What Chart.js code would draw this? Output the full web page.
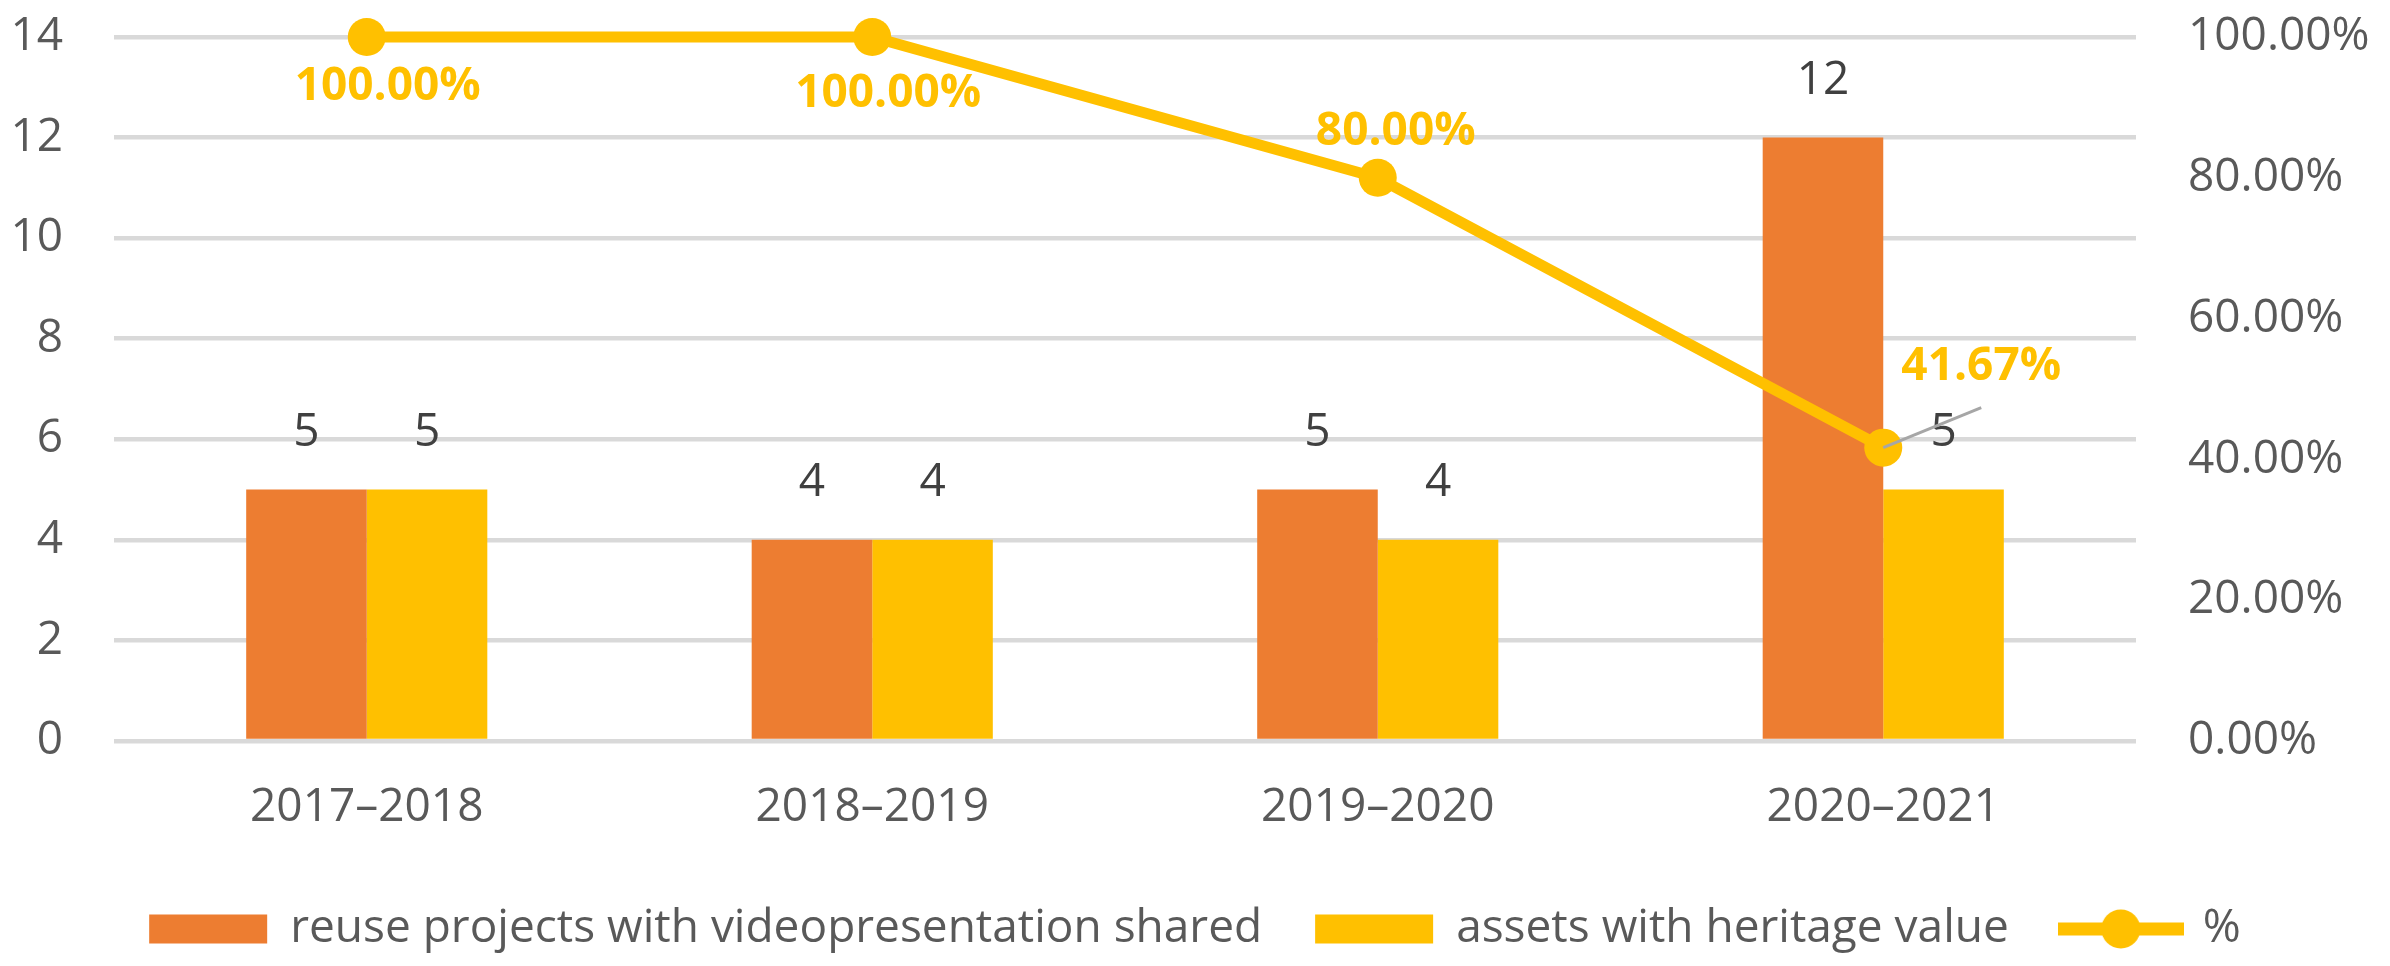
<!DOCTYPE html>
<html>
<head>
<meta charset="utf-8">
<script src="https://cdn.jsdelivr.net/npm/chart.js@4.4.1/dist/chart.umd.min.js"></script>
<style>
  html, body { margin: 0; padding: 0; background: #ffffff; }
  #wrap { width: 2390px; height: 966px; }
</style>
</head>
<body>
<div id="wrap"><canvas id="chart"></canvas></div>
<script>
const CATEGORIES = ['2017–2018', '2018–2019', '2019–2020', '2020–2021'];
const REUSE_PROJECTS = [5, 4, 5, 12];
const HERITAGE_ASSETS = [5, 4, 4, 5];
const HERITAGE_SHARE = [100, 100, 80, 41.67];
const COUNT_TICKS = [0, 2, 4, 6, 8, 10, 12, 14];
const PERCENT_TICKS = [0, 20, 40, 60, 80, 100];

const FONT = '"Open Sans", sans-serif';
const ORANGE = '#ED7D31';
const GOLD = '#FFC000';
const AXIS_TEXT = '#595959';

// where Excel put the % labels, relative to their point (px)
const SHARE_LABEL_SHIFT = [[21, 50], [16, 57], [18, -46], [98, -81]];
const LEADER_END = [null, null, null, [98, -40]];

function lineLegendKey() {
  const key = document.createElement('canvas');
  key.width = 126;
  key.height = 40;
  const c = key.getContext('2d');
  c.strokeStyle = GOLD;
  c.lineWidth = 13;
  c.beginPath();
  c.moveTo(0, 20);
  c.lineTo(126, 20);
  c.stroke();
  c.fillStyle = GOLD;
  c.beginPath();
  c.arc(63, 20, 19.5, 0, Math.PI * 2);
  c.fill();
  return key;
}

const valueLabels = {
  id: 'valueLabels',
  afterDatasetsDraw(chart) {
    const { ctx } = chart;
    ctx.save();
    ctx.textAlign = 'center';
    ctx.textBaseline = 'middle';

    chart.data.datasets.forEach((dataset, i) => {
      if (dataset.type === 'line') return;
      ctx.font = `46px ${FONT}`;
      ctx.fillStyle = '#404040';
      chart.getDatasetMeta(i).data.forEach((bar, j) => {
        ctx.fillText(String(dataset.data[j]), bar.x, bar.y - 57);
      });
    });

    chart.data.datasets.forEach((dataset, i) => {
      if (dataset.type !== 'line') return;
      chart.getDatasetMeta(i).data.forEach((point, j) => {
        const leader = LEADER_END[j];
        if (leader) {
          ctx.strokeStyle = '#A6A6A6';
          ctx.lineWidth = 3;
          ctx.beginPath();
          ctx.moveTo(point.x, point.y);
          ctx.lineTo(point.x + leader[0], point.y + leader[1]);
          ctx.stroke();
        }
        const [dx, dy] = SHARE_LABEL_SHIFT[j];
        ctx.font = `bold 46px ${FONT}`;
        ctx.fillStyle = GOLD;
        ctx.fillText(dataset.data[j].toFixed(2) + '%', point.x + dx, point.y + dy);
      });
    });

    ctx.restore();
  },
};

function renderChart() {
  const legendKey = lineLegendKey();

  new Chart(document.getElementById('chart'), {
    type: 'bar',
    data: {
      labels: CATEGORIES,
      datasets: [
        {
          label: 'reuse projects with videopresentation shared',
          data: REUSE_PROJECTS,
          backgroundColor: ORANGE,
          yAxisID: 'y',
          order: 1,
        },
        {
          label: 'assets with heritage value',
          data: HERITAGE_ASSETS,
          backgroundColor: GOLD,
          yAxisID: 'y',
          order: 1,
        },
        {
          type: 'line',
          label: '%',
          data: HERITAGE_SHARE,
          yAxisID: 'y1',
          borderColor: GOLD,
          backgroundColor: GOLD,
          borderWidth: 11,
          pointRadius: 19,
          pointHoverRadius: 19,
          pointBackgroundColor: GOLD,
          pointBorderWidth: 0,
          tension: 0,
          clip: false,
          order: 0,
        },
      ],
    },
    options: {
      animation: false,
      responsive: true,
      maintainAspectRatio: false,
      devicePixelRatio: 1,
      categoryPercentage: 0.477,
      barPercentage: 1,
      layout: {
        padding: { top: 37, left: 0, right: 0, bottom: 4 },
      },
      plugins: {
        tooltip: { enabled: false },
        legend: {
          position: 'bottom',
          labels: {
            usePointStyle: true,
            pointStyleWidth: 118,
            boxHeight: 29,
            padding: 53,
            color: AXIS_TEXT,
            font: { family: FONT, size: 46 },
            generateLabels: (chart) => chart.data.datasets.map((dataset, i) => ({
              text: dataset.label,
              fillStyle: dataset.backgroundColor,
              strokeStyle: dataset.backgroundColor,
              lineWidth: 0,
              pointStyle: dataset.type === 'line' ? legendKey : 'rect',
              fontColor: AXIS_TEXT,
              hidden: false,
              datasetIndex: i,
            })),
          },
        },
      },
      scales: {
        x: {
          grid: { display: false, drawTicks: false },
          border: { display: false },
          ticks: {
            color: AXIS_TEXT,
            font: { family: FONT, size: 46 },
            padding: 39,
            maxRotation: 0,
          },
          afterFit: (axis) => { axis.height = 112; },
        },
        y: {
          position: 'left',
          min: 0,
          max: 14,
          // tick marks are invisible; their length keeps the labels off the plot
          grid: { color: '#D9D9D9', lineWidth: 4.5, drawTicks: true, tickLength: 51, tickColor: 'rgba(0,0,0,0)' },
          border: { display: false },
          ticks: {
            color: AXIS_TEXT,
            font: { family: FONT, size: 46 },
            padding: 0,
          },
          afterBuildTicks: (axis) => { axis.ticks = COUNT_TICKS.map((value) => ({ value })); },
          afterFit: (axis) => { axis.width = 114; },
        },
        y1: {
          position: 'right',
          min: 0,
          max: 100,
          grid: { drawOnChartArea: false, drawTicks: true, tickLength: 52, tickColor: 'rgba(0,0,0,0)' },
          border: { display: false },
          ticks: {
            color: AXIS_TEXT,
            font: { family: FONT, size: 46 },
            padding: 0,
            callback: (value) => value.toFixed(2) + '%',
          },
          afterBuildTicks: (axis) => { axis.ticks = PERCENT_TICKS.map((value) => ({ value })); },
          afterFit: (axis) => { axis.width = 254; },
        },
      },
    },
    plugins: [valueLabels],
  });
}

window.addEventListener('DOMContentLoaded', renderChart);
</script>
</body>
</html>
